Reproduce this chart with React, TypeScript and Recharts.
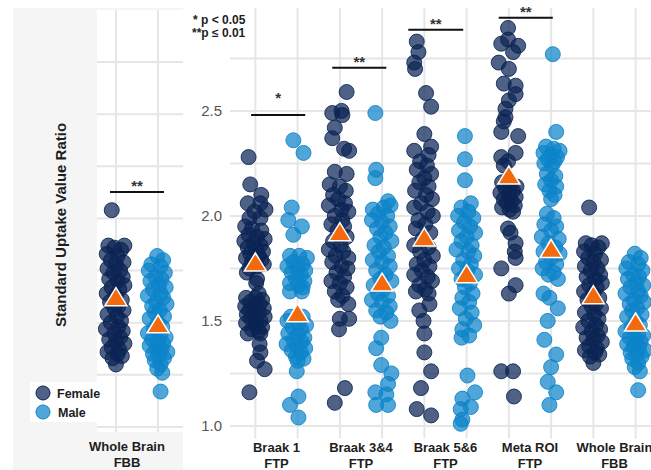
import { ScatterChart, Scatter, XAxis, YAxis, ReferenceLine, ReferenceArea } from "recharts";

// category labels (two lines each)
const CATEGORY_TOP = ["Braak 1", "Braak 3&4", "Braak 5&6", "Meta ROI", "Whole Brain"];
const CATEGORY_BOTTOM = ["FTP", "FTP", "FTP", "FTP", "FBB"];

const Y_TICKS = [1, 1.25, 1.5, 1.75, 2, 2.25, 2.5, 2.75];
const GROUP_TICKS = [0.75, 1.25, 1.75, 2.25, 2.75, 3.25, 3.75, 4.25, 4.75, 5.25];

// [jitter, SUVR] pairs
const braak1Female = [
  [-0.08, 2.28], [-0.06, 2.15], [0.07, 2.10], [-0.09, 2.06], [0.06, 2.06], [0.12, 2.03], [-0.01, 2.02],
  [-0.07, 1.99], [0.06, 1.99], [-0.12, 1.95], [-0.04, 1.94], [0.07, 1.93], [-0.08, 1.91], [0.02, 1.90],
  [0.11, 1.89], [-0.13, 1.88], [-0.02, 1.87], [0.06, 1.86], [-0.09, 1.85], [0.01, 1.84], [0.09, 1.83],
  [-0.06, 1.82], [0.04, 1.81], [-0.11, 1.80], [0.07, 1.79], [-0.04, 1.78], [0.10, 1.77], [0.02, 1.76],
  [-0.07, 1.75], [-0.10, 1.73], [0.02, 1.70], [0.01, 1.68], [0.04, 1.63], [-0.11, 1.61], [0.0, 1.61],
  [0.08, 1.60], [-0.06, 1.59], [0.05, 1.58], [-0.12, 1.57], [-0.01, 1.56], [0.10, 1.56], [-0.07, 1.55],
  [0.04, 1.54], [-0.10, 1.53], [0.01, 1.52], [0.11, 1.52], [-0.05, 1.51], [0.06, 1.50], [-0.11, 1.49],
  [0.0, 1.48], [0.08, 1.47], [-0.04, 1.46], [0.04, 1.45], [-0.09, 1.44], [0.06, 1.44], [0.05, 1.39],
  [0.06, 1.35], [0.02, 1.31], [0.11, 1.27], [-0.07, 1.16],
];
const braak1Male = [
  [-0.05, 2.36], [0.07, 2.30], [-0.07, 2.04], [-0.11, 1.98], [0.05, 1.95], [-0.05, 1.91],
  [-0.09, 1.81], [0.02, 1.81], [0.11, 1.80], [-0.05, 1.78], [0.06, 1.77], [-0.12, 1.76], [0.0, 1.75],
  [0.09, 1.74], [-0.07, 1.73], [0.04, 1.72], [-0.02, 1.70], [0.08, 1.69], [-0.09, 1.68], [0.01, 1.67],
  [0.06, 1.66], [-0.09, 1.64], [0.05, 1.64], [-0.08, 1.52], [0.06, 1.52], [-0.12, 1.50], [0.01, 1.49],
  [0.10, 1.48], [-0.06, 1.47], [0.04, 1.46], [-0.11, 1.44], [0.0, 1.43], [0.08, 1.42], [-0.05, 1.41],
  [0.05, 1.40], [-0.13, 1.39], [-0.01, 1.38], [0.09, 1.37], [-0.07, 1.36], [0.04, 1.35], [-0.02, 1.33],
  [0.07, 1.32], [0.0, 1.31], [-0.01, 1.26], [0.01, 1.14], [-0.09, 1.10], [0.01, 1.04],
];
const braak34Female = [
  [0.08, 2.59], [0.02, 2.50], [-0.09, 2.49], [0.03, 2.48], [-0.06, 2.42], [-0.09, 2.37], [0.05, 2.32],
  [0.11, 2.31], [-0.06, 2.21], [0.08, 2.20], [-0.12, 2.15], [0.0, 2.14], [0.07, 2.12], [-0.08, 2.10],
  [-0.02, 2.08], [0.06, 2.06], [-0.13, 2.05], [0.02, 2.03], [0.10, 2.02], [-0.06, 2.00], [0.03, 1.98],
  [-0.10, 1.96], [0.05, 1.95], [-0.03, 1.93], [0.08, 1.90], [-0.08, 1.88], [0.01, 1.86], [-0.13, 1.84],
  [0.04, 1.83], [-0.05, 1.81], [0.10, 1.80], [-0.09, 1.78], [0.02, 1.76], [0.09, 1.75], [-0.04, 1.73],
  [0.05, 1.71], [-0.10, 1.69], [0.0, 1.68], [0.08, 1.66], [-0.06, 1.64], [0.03, 1.62], [-0.02, 1.60],
  [0.10, 1.58], [0.0, 1.51], [0.11, 1.51], [-0.01, 1.46], [0.06, 1.18], [-0.06, 1.11],
];
const braak34Male = [
  [-0.08, 2.49], [-0.07, 2.22], [-0.08, 2.18], [0.07, 2.07], [-0.11, 2.03], [0.10, 2.05], [0.02, 2.04],
  [-0.05, 2.01], [0.06, 2.00], [-0.12, 1.98], [0.0, 1.97], [0.09, 1.95], [-0.06, 1.94], [0.04, 1.92],
  [-0.02, 1.90], [0.11, 1.88], [-0.09, 1.86], [0.02, 1.85], [-0.04, 1.83], [0.07, 1.81], [-0.11, 1.79],
  [0.0, 1.78], [0.09, 1.76], [-0.07, 1.74], [0.04, 1.72], [-0.02, 1.70], [0.11, 1.69], [-0.10, 1.67],
  [0.02, 1.65], [-0.05, 1.63], [0.07, 1.62], [-0.12, 1.60], [0.0, 1.59], [0.09, 1.57], [-0.07, 1.55],
  [0.05, 1.54], [-0.02, 1.52], [0.10, 1.50], [-0.01, 1.42], [-0.07, 1.37], [-0.01, 1.29], [0.11, 1.25],
  [0.07, 1.20], [-0.08, 1.16], [0.05, 1.15], [-0.07, 1.10], [0.07, 1.10],
];
const braak56Female = [
  [-0.09, 2.83], [-0.07, 2.78], [-0.12, 2.73], [-0.11, 2.70], [0.02, 2.585], [0.08, 2.52], [0.0, 2.39],
  [0.08, 2.33], [-0.12, 2.31], [0.05, 2.29], [-0.05, 2.26], [0.03, 2.24], [-0.09, 2.22], [0.08, 2.20],
  [0.0, 2.18], [-0.06, 2.16], [0.05, 2.14], [-0.11, 2.12], [0.02, 2.10], [0.09, 2.08], [-0.04, 2.06],
  [-0.12, 2.04], [0.04, 2.02], [0.10, 2.00], [-0.07, 1.98], [0.01, 1.96], [-0.10, 1.94], [0.07, 1.92],
  [-0.02, 1.89], [-0.12, 1.86], [0.05, 1.85], [-0.05, 1.83], [0.10, 1.81], [0.0, 1.79], [-0.09, 1.77],
  [0.06, 1.76], [-0.03, 1.74], [-0.12, 1.72], [0.04, 1.71], [0.09, 1.69], [-0.06, 1.67], [0.01, 1.65],
  [-0.10, 1.64], [0.05, 1.63], [0.06, 1.58], [-0.06, 1.55], [-0.01, 1.50], [0.0, 1.44], [0.0, 1.35],
  [0.08, 1.26], [-0.04, 1.18], [-0.09, 1.08], [0.08, 1.05],
];
const braak56Male = [
  [-0.02, 2.38], [-0.02, 2.27], [-0.02, 2.17], [0.05, 2.06], [-0.06, 2.04], [0.02, 2.02], [-0.10, 2.00],
  [0.08, 1.99], [-0.03, 1.97], [0.04, 1.95], [-0.09, 1.93], [0.10, 1.92], [0.0, 1.90], [-0.06, 1.88],
  [0.06, 1.86], [-0.12, 1.84], [0.02, 1.83], [0.09, 1.81], [-0.04, 1.79], [0.05, 1.77], [-0.09, 1.75],
  [0.01, 1.74], [0.10, 1.72], [-0.06, 1.70], [0.04, 1.68], [-0.02, 1.66], [0.07, 1.63], [-0.05, 1.61],
  [0.03, 1.59], [-0.08, 1.56], [0.06, 1.54], [-0.01, 1.51], [0.09, 1.48], [-0.05, 1.46], [0.03, 1.43],
  [-0.06, 1.42], [0.01, 1.24], [0.10, 1.16], [-0.05, 1.13], [-0.07, 1.08], [0.05, 1.09], [-0.05, 1.03],
  [-0.07, 1.01],
];
const metaFemale = [
  [-0.01, 2.895], [-0.09, 2.82], [-0.01, 2.84], [0.11, 2.81], [0.05, 2.78], [-0.12, 2.73], [0.0, 2.70],
  [-0.06, 2.63], [0.08, 2.62], [0.08, 2.58], [0.0, 2.55], [-0.04, 2.51], [-0.04, 2.47], [-0.06, 2.45],
  [-0.09, 2.40], [0.11, 2.38], [0.08, 2.30], [-0.09, 2.28], [-0.01, 2.26], [-0.06, 2.24], [-0.08, 2.16],
  [0.02, 2.15], [0.09, 2.14], [-0.04, 2.13], [0.05, 2.12], [-0.10, 2.11], [0.0, 2.10], [0.08, 2.09],
  [-0.06, 2.08], [0.03, 2.07], [-0.02, 2.06], [0.07, 2.05], [-0.08, 2.04], [0.01, 2.03], [0.05, 2.02],
  [-0.01, 1.94], [0.02, 1.92], [0.08, 1.87], [0.07, 1.83], [0.08, 1.80], [-0.09, 1.75], [0.08, 1.67],
  [0.0, 1.63], [-0.09, 1.26], [0.05, 1.26], [0.06, 1.14],
];
const metaMale = [
  [0.02, 2.77], [0.06, 2.40], [-0.06, 2.33], [0.03, 2.32], [0.10, 2.31], [-0.09, 2.30], [0.0, 2.29],
  [0.07, 2.28], [-0.04, 2.27], [0.04, 2.26], [-0.08, 2.25], [0.01, 2.24], [-0.05, 2.20], [0.05, 2.19],
  [0.0, 2.17], [-0.07, 2.15], [0.06, 2.14], [-0.02, 2.12], [0.04, 2.10], [0.0, 2.08], [-0.05, 2.01],
  [0.03, 1.99], [-0.08, 1.96], [0.06, 1.95], [0.0, 1.93], [-0.11, 1.90], [0.09, 1.89], [-0.03, 1.87],
  [0.05, 1.85], [-0.09, 1.83], [0.10, 1.82], [0.0, 1.80], [-0.06, 1.78], [0.06, 1.77], [-0.10, 1.75],
  [0.03, 1.73], [-0.03, 1.72], [0.08, 1.70], [-0.09, 1.63], [-0.02, 1.61], [0.08, 1.56], [-0.04, 1.50],
  [-0.08, 1.41], [0.06, 1.34], [0.0, 1.28], [-0.04, 1.21], [0.06, 1.16], [-0.02, 1.10],
];
const wholeBrainFemale = [
  [-0.05, 2.04], [-0.09, 1.87], [0.10, 1.87], [-0.02, 1.86], [0.06, 1.85], [-0.11, 1.83], [0.02, 1.82],
  [-0.06, 1.80], [0.09, 1.79], [0.0, 1.78], [-0.10, 1.76], [0.05, 1.75], [-0.03, 1.74], [0.08, 1.72],
  [-0.08, 1.71], [0.02, 1.70], [0.10, 1.68], [-0.05, 1.67], [0.04, 1.66], [-0.11, 1.64], [0.0, 1.63],
  [0.07, 1.61], [-0.07, 1.60], [0.03, 1.58], [-0.02, 1.57], [0.09, 1.56], [-0.10, 1.54], [0.01, 1.53],
  [0.06, 1.51], [-0.06, 1.50], [0.03, 1.48], [-0.12, 1.47], [0.08, 1.46], [-0.02, 1.45], [0.05, 1.43],
  [-0.08, 1.42], [0.0, 1.41], [0.10, 1.40], [-0.05, 1.38], [0.04, 1.37], [-0.10, 1.36], [0.02, 1.35],
  [0.07, 1.34], [-0.04, 1.33], [0.0, 1.30],
];
const wholeBrainMale = [
  [-0.01, 1.82], [0.06, 1.80], [-0.08, 1.78], [0.03, 1.77], [-0.11, 1.75], [0.08, 1.74], [-0.03, 1.72],
  [0.04, 1.71], [-0.09, 1.70], [0.01, 1.68], [0.09, 1.67], [-0.06, 1.66], [0.03, 1.64], [-0.12, 1.63],
  [0.06, 1.62], [-0.02, 1.60], [0.10, 1.59], [-0.07, 1.58], [0.02, 1.56], [-0.04, 1.55], [0.07, 1.53],
  [-0.10, 1.52], [0.0, 1.50], [0.05, 1.48], [-0.05, 1.47], [-0.12, 1.45], [0.03, 1.44], [0.09, 1.43],
  [-0.07, 1.42], [0.0, 1.41], [0.06, 1.40], [-0.10, 1.39], [-0.02, 1.38], [0.04, 1.37], [0.11, 1.36],
  [-0.06, 1.35], [0.01, 1.34], [0.07, 1.33], [-0.04, 1.32], [0.03, 1.30], [-0.01, 1.28], [0.05, 1.26],
  [0.03, 1.17],
];

const FEMALE_GROUPS = [braak1Female, braak34Female, braak56Female, metaFemale, wholeBrainFemale];
const MALE_GROUPS = [braak1Male, braak34Male, braak56Male, metaMale, wholeBrainMale];

// group means (triangles)
const FEMALE_MEANS = [1.776, 1.92, 1.895, 2.19, 1.62];
const MALE_MEANS = [1.534, 1.68, 1.72, 1.84, 1.49];

// significance bars: [start, end, height, mark]
const SIG_BARS: [number, number, number, string][] = [
  [0.70, 1.34, 2.48, "*"],
  [1.66, 2.30, 2.705, "**"],
  [2.56, 3.21, 2.886, "**"],
  [3.63, 4.27, 2.943, "**"],
];
const SIG_LEFT: [number, number, number, string] = [0.68, 1.32, 2.127, "**"];

const RIGHT_X: [number, number] = [0.45, 5.432];
const RIGHT_Y: [number, number] = [0.94, 2.99];
const LEFT_X: [number, number] = [0.525, 1.546];
const LEFT_Y: [number, number] = [0.976, 3.0];

const FEMALE_COLOR = "#0b2454";
const MALE_COLOR = "#0c84c9";
const MEAN_COLOR = "#f26a0c";
const GRID = "#e6e6e6";
const TEXT = "#1e1e1e";
const FONT = "'Liberation Sans', Arial, sans-serif";

const toPoints = (pts: number[][], center: number, side: number) =>
  pts.map(([j, v]) => ({ x: center + side * 0.25 + j, y: v }));

const femalePts = FEMALE_GROUPS.flatMap((g, i) => toPoints(g, i + 1, -1));
const malePts = MALE_GROUPS.flatMap((g, i) => toPoints(g, i + 1, 1));
const femaleMeanPts = FEMALE_MEANS.map((v, i) => ({ x: i + 0.75, y: v }));
const maleMeanPts = MALE_MEANS.map((v, i) => ({ x: i + 1.25, y: v }));

const leftFemale = toPoints(wholeBrainFemale, 1, -1);
const leftMale = toPoints(wholeBrainMale, 1, 1);

const dot = (color: string, alpha: number) => (p: any) => (
  <circle cx={p.cx} cy={p.cy} r={7.5} fill={color} fillOpacity={alpha} stroke={color} strokeOpacity={0.85} strokeWidth={1} />
);
const triangle = (p: any) => (
  <polygon
    points={`${p.cx},${p.cy - 10} ${p.cx - 11},${p.cy + 8} ${p.cx + 11},${p.cy + 8}`}
    fill={MEAN_COLOR}
    stroke="#fff"
    strokeWidth={1.5}
  />
);

const CatTick = (props: any) => {
  const { x, y, payload } = props;
  const i = Math.round(payload.value) - 1;
  return (
    <text x={x} y={y} textAnchor="middle" fontSize={13} fontWeight="bold" fill={TEXT} fontFamily={FONT}>
      <tspan x={x} dy={13}>{CATEGORY_TOP[i]}</tspan>
      <tspan x={x} dy={16}>{CATEGORY_BOTTOM[i]}</tspan>
    </text>
  );
};

const sigLabel = (mark: string) => ({
  value: mark,
  position: "top" as const,
  offset: mark === "*" ? 12 : 1,
  fontSize: 15,
  fontWeight: "bold",
  fill: "#333",
  fontFamily: FONT,
});

// grid drawn as reference lines through the axes' scales
const gridLines = (xTicks: number[], xAxisId?: string) => [
  ...Y_TICKS.map((t) => (
    <ReferenceLine key={`h${t}`} xAxisId={xAxisId} y={t} stroke={GRID} strokeWidth={2} />
  )),
  ...xTicks.map((t) => (
    <ReferenceLine key={`v${t}`} xAxisId={xAxisId} x={t} stroke={GRID} strokeWidth={2} />
  )),
];

export default function App() {
  return (
    <div style={{ position: "absolute", left: 0, top: 0, width: 651, height: 470, background: "#fff", fontFamily: FONT }}>
      {/* grey panel behind the left plot */}
      <div style={{ position: "absolute", left: 13, top: 8, width: 170, height: 462, background: "#f5f5f5" }} />

      {/* left panel: Whole Brain FBB */}
      <div style={{ position: "absolute", left: 97, top: 10 }}>
        <ScatterChart width={86} height={422} margin={{ top: 0, right: 0, bottom: 0, left: 0 }}>
          <XAxis type="number" dataKey="x" domain={LEFT_X} hide allowDataOverflow />
          <YAxis type="number" dataKey="y" domain={LEFT_Y} hide allowDataOverflow />
          <ReferenceArea x1={LEFT_X[0]} x2={LEFT_X[1]} y1={LEFT_Y[0]} y2={LEFT_Y[1]} fill="#fff" fillOpacity={1} stroke="none" />
          {gridLines([0.75, 1.25])}
          <Scatter data={leftFemale} shape={dot(FEMALE_COLOR, 0.72)} isAnimationActive={false} />
          <Scatter data={leftMale} shape={dot(MALE_COLOR, 0.72)} isAnimationActive={false} />
          <Scatter data={[{ x: 0.75, y: FEMALE_MEANS[4] }, { x: 1.25, y: MALE_MEANS[4] }]} shape={triangle} isAnimationActive={false} />
          <ReferenceLine
            segment={[{ x: SIG_LEFT[0], y: SIG_LEFT[2] }, { x: SIG_LEFT[1], y: SIG_LEFT[2] }]}
            stroke="#111"
            strokeWidth={2}
            label={sigLabel(SIG_LEFT[3])}
          />
        </ScatterChart>
      </div>

      {/* right panel */}
      <div style={{ position: "absolute", left: 0, top: 0 }}>
        <ScatterChart width={651} height={470} margin={{ top: 8, right: 0, bottom: 0, left: 190 }}>
          <XAxis xAxisId="grid" type="number" dataKey="x" domain={RIGHT_X} hide allowDataOverflow />
          <XAxis
            xAxisId="cat"
            type="number"
            dataKey="x"
            domain={RIGHT_X}
            ticks={[1, 2, 3, 4, 5]}
            interval={0}
            height={31.5}
            axisLine={false}
            tickLine={false}
            tickSize={0}
            tickMargin={0}
            tick={<CatTick />}
            allowDataOverflow
          />
          <YAxis
            type="number"
            dataKey="y"
            domain={RIGHT_Y}
            ticks={Y_TICKS}
            interval={0}
            width={40}
            axisLine={false}
            tickLine={false}
            tickSize={0}
            tickMargin={8}
            tickFormatter={(v: number) => (Math.abs(v * 2 - Math.round(v * 2)) < 1e-6 ? v.toFixed(1) : "")}
            tick={{ fill: "#555", fontSize: 15, fontFamily: FONT }}
            allowDataOverflow
          />
          {gridLines(GROUP_TICKS, "grid")}
          <Scatter xAxisId="grid" data={femalePts} shape={dot(FEMALE_COLOR, 0.72)} isAnimationActive={false} />
          <Scatter xAxisId="grid" data={malePts} shape={dot(MALE_COLOR, 0.72)} isAnimationActive={false} />
          <Scatter xAxisId="grid" data={femaleMeanPts} shape={triangle} isAnimationActive={false} />
          <Scatter xAxisId="grid" data={maleMeanPts} shape={triangle} isAnimationActive={false} />
          {SIG_BARS.map(([a, b, h, mark], i) => (
            <ReferenceLine
              key={i}
              xAxisId="grid"
              segment={[{ x: a, y: h }, { x: b, y: h }]}
              stroke="#111"
              strokeWidth={2}
              label={sigLabel(mark)}
            />
          ))}
        </ScatterChart>
      </div>

      {/* text decorations */}
      <svg width={651} height={470} style={{ position: "absolute", left: 0, top: 0, pointerEvents: "none" }} fontFamily={FONT}>
        <text transform="translate(66,225) rotate(-90)" textAnchor="middle" fontSize={15} fontWeight="bold" fill={TEXT}>
          Standard Uptake Value Ratio
        </text>
        <rect x={30} y={382} width={70} height={40} fill="#fff" />
        <circle cx={43} cy={393} r={7} fill={FEMALE_COLOR} fillOpacity={0.72} stroke={FEMALE_COLOR} />
        <circle cx={43} cy={412} r={7} fill={MALE_COLOR} fillOpacity={0.72} stroke={MALE_COLOR} />
        <text x={57} y={398} fontSize={12.5} fontWeight="bold" fill={TEXT}>Female</text>
        <text x={58} y={417} fontSize={12.5} fontWeight="bold" fill={TEXT}>Male</text>
        <text x={127} y={451} textAnchor="middle" fontSize={13} fontWeight="bold" fill={TEXT}>Whole Brain</text>
        <text x={127} y={467} textAnchor="middle" fontSize={13} fontWeight="bold" fill={TEXT}>FBB</text>
        <text x={193} y={24} fontSize={12} fontWeight="bold" fill={TEXT}>{"*  p < 0.05"}</text>
        <text x={192} y={37} fontSize={12} fontWeight="bold" fill={TEXT}>{"**p ≤ 0.01"}</text>
      </svg>
    </div>
  );
}
